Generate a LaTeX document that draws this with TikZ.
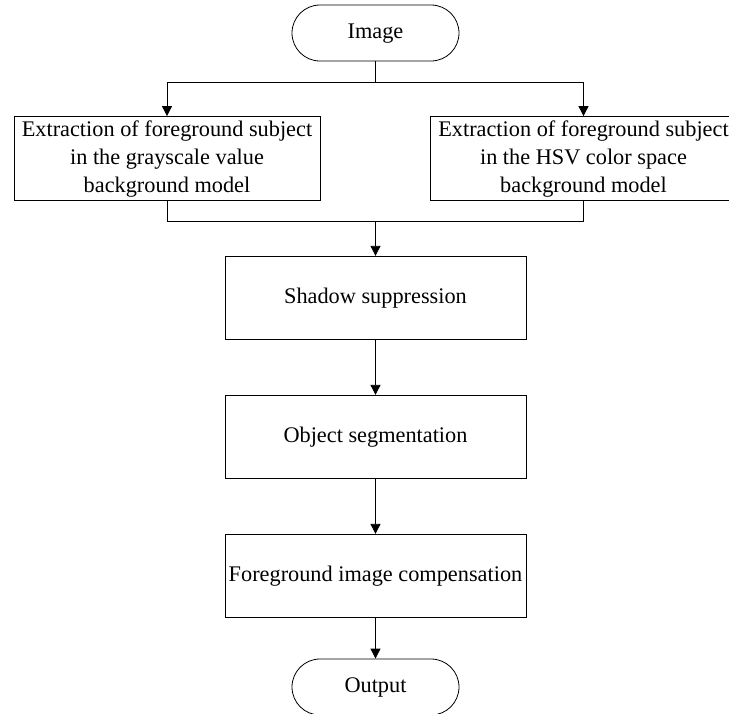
\documentclass[tikz,border=0pt]{standalone}
\usepackage{fontspec}
\setmainfont{Liberation Serif}
\usetikzlibrary{arrows.meta,shapes.misc}
\newcommand{\boxtxt}[1]{\raisebox{-2.5pt}{\begin{tabular}{@{}c@{}}#1\end{tabular}}}
\begin{document}
\begin{tikzpicture}[x=1pt,y=-1pt,
  line width=0.8pt,
  every node/.style={font=\fontsize{22.3}{28}\selectfont, inner sep=0pt, align=center},
  procbox/.style={draw, rectangle, minimum width=#1, minimum height=83.5},
  procbox/.default=301,
  term/.style={draw, rounded rectangle, minimum width=167, minimum height=56},
  arr/.style={-{Triangle[width=10pt,length=10pt]}}]
\useasboundingbox (0,0) rectangle (729,713);
\begin{scope}
\clip (0,0) rectangle (729,713);
\node[term] (img) at (375.5,33) {\boxtxt{Image}};
\node[procbox=306] (L) at (167,158.5) {\boxtxt{Extraction of foreground subject\\in the grayscale value\\background model}};
\node[procbox=306] (R) at (583.5,158.5) {\boxtxt{Extraction of foreground subject\\in the HSV color space\\background model}};
\node[procbox] (S) at (375.5,298) {\boxtxt{Shadow suppression}};
\node[procbox] (O) at (375.5,437) {\boxtxt{Object segmentation}};
\node[procbox] (F) at (375.5,576) {\boxtxt{Foreground image compensation}};
\node[term] (out) at (375.5,687) {\boxtxt{Output}};
\coordinate (j1) at (375.5,82);
\coordinate (j2) at (375.5,221);
\draw (img.south) -- (j1);
\draw[arr] (j1) -| (L.north);
\draw[arr] (j1) -| (R.north);
\draw (L.south) |- (j2);
\draw (R.south) |- (j2);
\draw[arr] (j2) -- (S.north);
\draw[arr] (S.south) -- (O.north);
\draw[arr] (O.south) -- (F.north);
\draw[arr] (F.south) -- (out.north);
\end{scope}
\end{tikzpicture}
\end{document}
